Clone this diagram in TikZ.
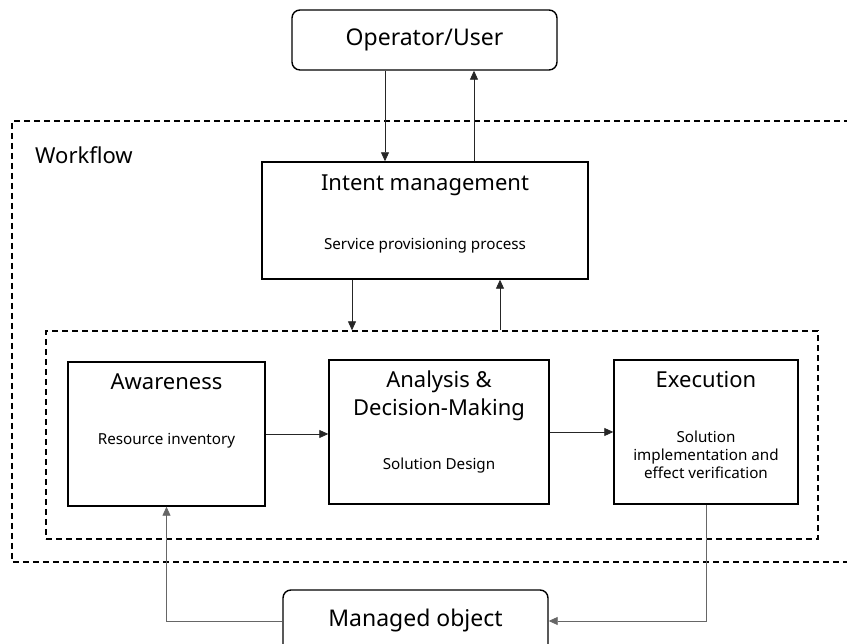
\documentclass[tikz,border=0pt]{standalone}
\usepackage{fontspec}
\setmainfont{Noto Sans}
\usetikzlibrary{arrows.meta}

\begin{document}
\begin{tikzpicture}[x=1pt, y=1pt,
        box/.style={draw, line width=1.4pt, inner sep=0pt},
        endbox/.style={box, rounded corners=8pt},
        dashbox/.style={draw, line width=1.3pt, dash pattern=on 6pt off 4pt},
        title/.style={font=\fontsize{22}{28}\selectfont, inner sep=0pt, anchor=base, align=center},
        sub/.style={font=\fontsize{15.2}{18}\selectfont, inner sep=0pt, anchor=base, align=center},
        arr/.style={-{Triangle[length=9pt, width=8pt]}, line width=0.8pt, draw=black!85}]
        \useasboundingbox (0, 0) rectangle (847, 644);

        % outer workflow frame, open on the right
        \draw[dashbox] (860, 523) -- (12, 523) -- (12, 82) -- (860, 82);
        \node[title, anchor=base west] (wf) at (35, 480) {Workflow};

        % user and managed object
        \node[endbox, minimum width=265, minimum height=60] (user) at (424.5, 604) {};
        \node[title, font=\fontsize{23}{28}\selectfont, anchor=center] at (user.center) {Operator/User};
        \node[endbox, minimum width=265, minimum height=62] (mo) at (415.5, 23) {};
        \node[title, font=\fontsize{23}{28}\selectfont, anchor=center] at (mo.center) {Managed object};

        % intent management
        \node[box, minimum width=326, minimum height=117] (intent) at (425, 423.5) {};
        \node[title] at ([yshift=-29]intent.north) {Intent management};
        \node[sub] at ([yshift=-88]intent.north) {Service provisioning process};

        % inner loop frame
        \node[dashbox, minimum width=772, minimum height=208] (loop) at (432, 209) {};

        % stages
        \node[box, minimum width=197, minimum height=144] (aware) at (166.5, 210) {};
        \node[title] at ([yshift=-28]aware.north) {Awareness};
        \node[sub] at ([yshift=-83]aware.north) {Resource inventory};

        \node[box, minimum width=220, minimum height=144] (analysis) at (439, 212) {};
        \node[title] at ([yshift=-56]analysis.north) {Analysis \&\\Decision-Making};
        \node[sub] at ([yshift=-110]analysis.north) {Solution Design};

        \node[box, minimum width=184, minimum height=144] (exec) at (706, 212) {};
        \node[title] at ([yshift=-28]exec.north) {Execution};
        \node[sub] at ([yshift=-119]exec.north) {Solution\\implementation and\\effect verification};

        % edges user <-> intent
        \draw[arr] ([xshift=-39.5]user.south) -- ([xshift=-39.5]user.south |- intent.north);
        \draw[arr] ([xshift=49.5]user.south |- intent.north) -- ([xshift=49.5]user.south);
        % edges intent <-> loop
        \draw[arr] ([xshift=-73]intent.south) -- ([xshift=-73]intent.south |- loop.north);
        \draw[arr] ([xshift=75]intent.south |- loop.north) -- ([xshift=75]intent.south);

        % edges between stages
        \draw[arr] (aware.east) -- (aware.east -| analysis.west);
        \draw[arr] (analysis.east) -- (exec.west);
        % edges to and from managed object
        \draw[arr, draw=black!60] (exec.south) |- (mo.east);
        \draw[arr, draw=black!60] (mo.west) -| (aware.south);
    \end{tikzpicture}
\end{document}
